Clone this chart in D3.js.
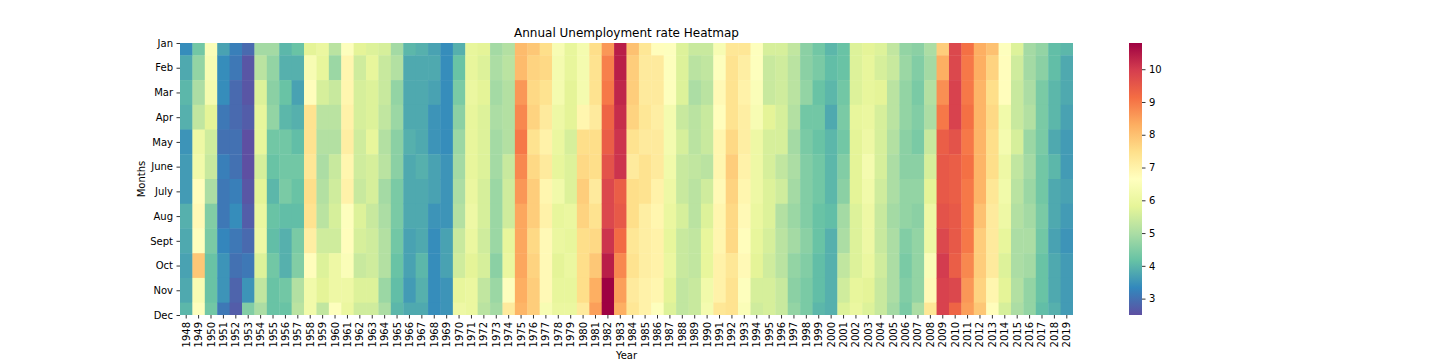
<!DOCTYPE html>
<html><head><meta charset="utf-8">
<script src="https://cdn.jsdelivr.net/npm/d3@7"></script>
<style>body{margin:0;background:#fff}text{font-family:"DejaVu Sans",sans-serif;fill:#000}</style>
</head><body><svg id="c" width="1440" height="360"></svg>
<script>
const months = ["Jan","Feb","Mar","Apr","May","June","July","Aug","Sept","Oct","Nov","Dec"];
const years = [1948,1949,1950,1951,1952,1953,1954,1955,1956,1957,1958,1959,1960,1961,1962,1963,1964,1965,1966,1967,1968,1969,1970,1971,1972,1973,1974,1975,1976,1977,1978,1979,1980,1981,1982,1983,1984,1985,1986,1987,1988,1989,1990,1991,1992,1993,1994,1995,1996,1997,1998,1999,2000,2001,2002,2003,2004,2005,2006,2007,2008,2009,2010,2011,2012,2013,2014,2015,2016,2017,2018,2019];
const colorbarTicks = [3,4,5,6,7,8,9,10];
const title = "Annual Unemployment rate Heatmap";
const xLabel = "Year", yLabel = "Months";

// monthly rates, one row per year
const rates1940s = [
 [3.4,3.8,4.0,3.9,3.5,3.6,3.6,3.9,3.8,3.7,3.8,4.0],
 [4.3,4.7,5.0,5.3,6.1,6.2,6.7,6.8,6.6,7.9,6.4,6.6]];
const rates1950s = [
 [6.5,6.4,6.3,5.8,5.5,5.4,5.0,4.5,4.4,4.2,4.2,4.3],
 [3.7,3.4,3.4,3.1,3.0,3.2,3.1,3.1,3.3,3.5,3.5,3.1],
 [3.2,3.1,2.9,2.9,3.0,3.0,3.2,3.4,3.1,3.0,2.8,2.7],
 [2.9,2.6,2.6,2.7,2.5,2.5,2.6,2.7,2.9,3.1,3.5,4.5],
 [4.9,5.2,5.7,5.9,5.9,5.6,5.8,6.0,6.1,5.7,5.3,5.0],
 [4.9,4.7,4.6,4.7,4.3,4.2,4.0,4.2,4.1,4.3,4.2,4.2],
 [4.0,3.9,4.2,4.0,4.3,4.3,4.4,4.1,3.9,3.9,4.3,4.2],
 [4.2,3.9,3.7,3.9,4.1,4.3,4.2,4.1,4.4,4.5,5.1,5.2],
 [5.8,6.4,6.7,7.4,7.4,7.3,7.5,7.4,7.1,6.7,6.2,6.2],
 [6.0,5.9,5.6,5.2,5.1,5.0,5.1,5.2,5.5,5.7,5.8,5.3]];
const rates1960s = [
 [5.2,4.8,5.4,5.2,5.1,5.4,5.5,5.6,5.5,6.1,6.1,6.6],
 [6.6,6.9,6.9,7.0,7.1,6.9,7.0,6.6,6.7,6.5,6.1,6.0],
 [5.8,5.5,5.6,5.6,5.5,5.5,5.4,5.7,5.6,5.4,5.7,5.5],
 [5.7,5.9,5.7,5.7,5.9,5.6,5.6,5.4,5.5,5.5,5.7,5.5],
 [5.6,5.4,5.4,5.3,5.1,5.2,4.9,5.0,5.1,5.1,4.8,5.0],
 [4.9,5.1,4.7,4.8,4.6,4.6,4.4,4.4,4.3,4.2,4.1,4.0],
 [4.0,3.8,3.8,3.8,3.9,3.8,3.8,3.8,3.7,3.7,3.6,3.8],
 [3.9,3.8,3.8,3.8,3.8,3.9,3.8,3.8,3.8,4.0,3.9,3.8],
 [3.7,3.8,3.7,3.5,3.5,3.7,3.7,3.5,3.4,3.4,3.4,3.4],
 [3.4,3.4,3.4,3.4,3.4,3.5,3.5,3.5,3.7,3.7,3.5,3.5]];
const rates1970s = [
 [3.9,4.2,4.4,4.6,4.8,4.9,5.0,5.1,5.4,5.5,5.9,6.1],
 [5.9,5.9,6.0,5.9,5.9,5.9,6.0,6.1,6.0,5.8,6.0,6.0],
 [5.8,5.7,5.8,5.7,5.7,5.7,5.6,5.6,5.5,5.6,5.3,5.2],
 [4.9,5.0,4.9,5.0,4.9,4.9,4.8,4.8,4.8,4.6,4.8,4.9],
 [5.1,5.2,5.1,5.1,5.1,5.4,5.5,5.5,5.9,6.0,6.6,7.2],
 [8.1,8.1,8.6,8.8,9.0,8.8,8.6,8.4,8.4,8.4,8.3,8.2],
 [7.9,7.7,7.6,7.7,7.4,7.6,7.8,7.8,7.6,7.7,7.8,7.8],
 [7.5,7.6,7.4,7.2,7.0,7.2,6.9,7.0,6.8,6.8,6.8,6.4],
 [6.4,6.3,6.3,6.1,6.0,5.9,6.2,5.9,6.0,5.8,5.9,6.0],
 [5.9,5.9,5.8,5.8,5.6,5.7,5.7,6.0,5.9,6.0,5.9,6.0]];
const rates1980s = [
 [6.3,6.3,6.3,6.9,7.5,7.6,7.8,7.7,7.5,7.5,7.5,7.2],
 [7.5,7.4,7.4,7.2,7.5,7.5,7.2,7.4,7.6,7.9,8.3,8.5],
 [8.6,8.9,9.0,9.3,9.4,9.6,9.8,9.8,10.1,10.4,10.8,10.8],
 [10.4,10.4,10.3,10.2,10.1,10.1,9.4,9.5,9.2,8.8,8.5,8.3],
 [8.0,7.8,7.8,7.7,7.4,7.2,7.5,7.5,7.3,7.4,7.2,7.3],
 [7.3,7.2,7.2,7.3,7.2,7.4,7.4,7.1,7.1,7.1,7.0,7.0],
 [6.7,7.2,7.2,7.1,7.2,7.2,7.0,6.9,7.0,7.0,6.9,6.6],
 [6.6,6.6,6.6,6.3,6.3,6.2,6.1,6.0,5.9,6.0,5.8,5.7],
 [5.7,5.7,5.7,5.4,5.6,5.4,5.4,5.6,5.4,5.4,5.3,5.3],
 [5.4,5.2,5.0,5.2,5.2,5.3,5.2,5.2,5.3,5.3,5.4,5.4]];
const rates1990s = [
 [5.4,5.3,5.2,5.4,5.4,5.2,5.5,5.7,5.9,5.9,6.2,6.3],
 [6.4,6.6,6.8,6.7,6.9,6.9,6.8,6.9,6.9,7.0,7.0,7.3],
 [7.3,7.4,7.4,7.4,7.6,7.8,7.7,7.6,7.6,7.3,7.4,7.4],
 [7.3,7.1,7.0,7.1,7.1,7.0,6.9,6.8,6.7,6.8,6.6,6.5],
 [6.6,6.6,6.5,6.4,6.1,6.1,6.1,6.0,5.9,5.8,5.6,5.5],
 [5.6,5.4,5.4,5.8,5.6,5.6,5.7,5.7,5.6,5.5,5.6,5.6],
 [5.6,5.5,5.5,5.6,5.6,5.3,5.5,5.1,5.2,5.2,5.4,5.4],
 [5.3,5.2,5.2,5.1,4.9,5.0,4.9,4.8,4.9,4.7,4.6,4.7],
 [4.6,4.6,4.7,4.3,4.4,4.5,4.5,4.5,4.6,4.5,4.4,4.4],
 [4.3,4.4,4.2,4.3,4.2,4.3,4.3,4.2,4.2,4.1,4.1,4.0]];
const rates2000s = [
 [4.0,4.1,4.0,3.8,4.0,4.0,4.0,4.1,3.9,3.9,3.9,3.9],
 [4.2,4.2,4.3,4.4,4.3,4.5,4.6,4.9,5.0,5.3,5.5,5.7],
 [5.7,5.7,5.7,5.9,5.8,5.8,5.8,5.7,5.7,5.7,5.9,6.0],
 [5.8,5.9,5.9,6.0,6.1,6.3,6.2,6.1,6.1,6.0,5.8,5.7],
 [5.7,5.6,5.8,5.6,5.6,5.6,5.5,5.4,5.4,5.5,5.4,5.4],
 [5.3,5.4,5.2,5.2,5.1,5.0,5.0,4.9,5.0,5.0,5.0,4.9],
 [4.7,4.8,4.7,4.7,4.6,4.6,4.7,4.7,4.5,4.4,4.5,4.4],
 [4.6,4.5,4.4,4.5,4.4,4.6,4.7,4.6,4.7,4.7,4.7,5.0],
 [5.0,4.9,5.1,5.0,5.4,5.6,5.8,6.1,6.1,6.5,6.8,7.3],
 [7.8,8.3,8.7,9.0,9.4,9.5,9.5,9.6,9.8,10.0,9.9,9.9]];
const rates2010s = [
 [9.8,9.8,9.9,9.9,9.6,9.4,9.4,9.5,9.5,9.4,9.8,9.3],
 [9.1,9.0,9.0,9.1,9.0,9.1,9.0,9.0,9.0,8.8,8.6,8.5],
 [8.3,8.3,8.2,8.2,8.2,8.2,8.2,8.0,7.8,7.8,7.7,7.9],
 [8.0,7.7,7.5,7.6,7.5,7.5,7.3,7.2,7.2,7.2,6.9,6.7],
 [6.6,6.7,6.7,6.2,6.3,6.1,6.2,6.1,5.9,5.7,5.8,5.6],
 [5.7,5.5,5.4,5.4,5.6,5.3,5.2,5.1,5.0,5.0,5.1,5.0],
 [4.9,4.9,5.0,5.1,4.8,4.9,4.8,4.9,5.0,4.9,4.7,4.7],
 [4.7,4.6,4.4,4.4,4.4,4.3,4.3,4.4,4.3,4.2,4.2,4.1],
 [4.1,4.1,4.0,4.0,3.8,4.0,3.8,3.8,3.7,3.8,3.8,3.9],
 [4.0,3.8,3.8,3.7,3.6,3.6,3.7,3.6,3.5,3.6,3.6,3.6]];
const rates = [].concat(rates1940s, rates1950s, rates1960s, rates1970s, rates1980s, rates1990s, rates2000s, rates2010s);
const vmin = 2.5, vmax = 10.8;
const spectralR = ["#5e4fa2","#3288bd","#66c2a5","#abdda4","#e6f598","#ffffbf","#fee08b","#fdae61","#f46d43","#d53e4f","#9e0142"];

const cells = [];
years.forEach((y, i) => months.forEach((m, j) => cells.push({year: y, month: m, v: rates[i][j]})));

const svg = d3.select("#c");
const L = 180, R = 1073, T = 43, B = 315;
const x = d3.scaleBand().domain(years).range([L, R]).padding(0);
// matplotlib-3.1.1 style half-cut rows: visible y extent is 0.5 .. 11.5
const yIdx = d3.scaleLinear().domain([0.5, 11.5]).range([T, B]);
const color = d3.scaleLinear()
  .domain(spectralR.map((c, i) => vmin + (vmax - vmin) * i / (spectralR.length - 1)))
  .range(spectralR).interpolate(d3.interpolateRgb).clamp(true);

svg.append("defs").append("clipPath").attr("id","clip")
  .append("rect").attr("x", L).attr("y", T).attr("width", R - L).attr("height", B - T);

svg.append("g").attr("clip-path","url(#clip)")
  .selectAll("rect").data(cells).join("rect")
  .attr("x", d => x(d.year))
  .attr("y", d => yIdx(months.indexOf(d.month)))
  .attr("width", x.bandwidth() + 0.4)
  .attr("height", yIdx(1) - yIdx(0) + 0.4)
  .attr("fill", d => color(d.v));

// y axis
const yTick = d3.scalePoint().domain(months).range([yIdx(0.5), yIdx(11.5)]);
const ya = svg.append("g").attr("transform", `translate(${L},0)`)
  .call(d3.axisLeft(yTick).tickSize(3.5).tickPadding(3.5));
ya.select(".domain").remove();
ya.selectAll("line").attr("stroke","#000").attr("stroke-width",0.8);
ya.selectAll("text").attr("font-size","10px").attr("fill","#000").attr("font-family","DejaVu Sans");

// x axis
const xa = svg.append("g").attr("transform", `translate(0,${B})`)
  .call(d3.axisBottom(x).tickSize(3.5).tickPadding(3.5));
xa.select(".domain").remove();
xa.selectAll("line").attr("stroke","#000").attr("stroke-width",0.8);
xa.selectAll("text").attr("font-size","10px").attr("fill","#000").attr("font-family","DejaVu Sans")
  .attr("transform","rotate(-90)").attr("text-anchor","end")
  .attr("x", -7).attr("y", 0).attr("dy","0.35em");

// labels
svg.append("text").attr("x", (L + R) / 2).attr("y", 37).attr("text-anchor","middle")
  .attr("font-size","12px").text(title);
svg.append("text").attr("x", (L + R) / 2).attr("y", 359).attr("text-anchor","middle")
  .attr("font-size","10px").text(xLabel);
svg.append("text").attr("transform", `translate(145,${(T + B) / 2}) rotate(-90)`).attr("text-anchor","middle")
  .attr("font-size","10px").text(yLabel);

// colorbar
const cbL = 1129, cbW = 13;
const cy = d3.scaleLinear().domain([vmin, vmax]).range([B, T]);
const grad = svg.select("defs").append("linearGradient").attr("id","cb")
  .attr("x1",0).attr("y1",1).attr("x2",0).attr("y2",0);
spectralR.forEach((c, i) => grad.append("stop").attr("offset", i / (spectralR.length - 1)).attr("stop-color", c));
svg.append("rect").attr("x", cbL).attr("y", T).attr("width", cbW).attr("height", B - T).attr("fill","url(#cb)");
const ca = svg.append("g").attr("transform", `translate(${cbL + cbW},0)`)
  .call(d3.axisRight(cy).tickValues(colorbarTicks).tickFormat(d3.format("d")).tickSize(3.5).tickPadding(3.5));
ca.select(".domain").remove();
ca.selectAll("line").attr("stroke","#000").attr("stroke-width",0.8);
ca.selectAll("text").attr("font-size","10px").attr("fill","#000").attr("font-family","DejaVu Sans");
</script></body></html>
